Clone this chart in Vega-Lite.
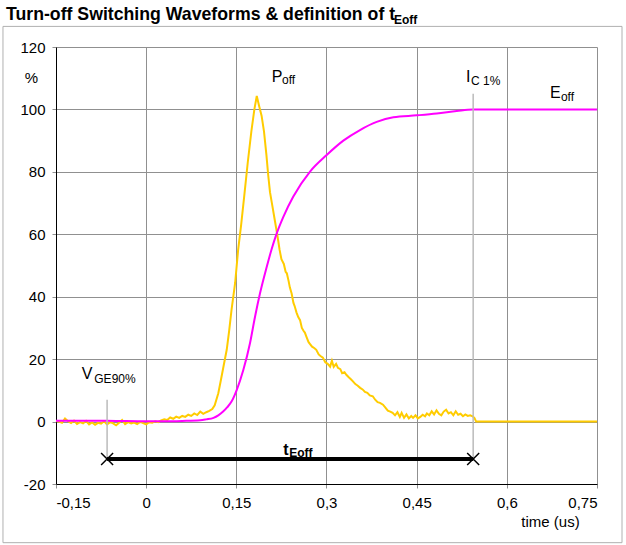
{
  "$schema": "https://vega.github.io/schema/vega-lite/v6.json",
  "width": 541,
  "height": 437,
  "autosize": "none",
  "padding": {"left": 56, "top": 47, "right": 29, "bottom": 61},
  "background": "white",
  "config": {
    "font": "Liberation Sans",
    "view": {"stroke": null},
    "axis": {
      "grid": true,
      "gridColor": "#909090",
      "gridOpacity": 1,
      "gridWidth": 1,
      "domainColor": "black",
      "domainWidth": 1,
      "ticks": true,
      "tickColor": "#909090",
      "tickSize": 4,
      "labelFontSize": 15,
      "labelColor": "black",
      "titleFontSize": 15,
      "titleFontWeight": "normal",
      "titleColor": "black"
    }
  },
  "datasets": {
    "poff": [
      {"t": -0.15, "v": 0.2}, {"t": -0.145, "v": 0.0}, {"t": -0.14, "v": -0.4}, {"t": -0.135, "v": 1.0},
      {"t": -0.13, "v": 0.1}, {"t": -0.125, "v": -0.5}, {"t": -0.12, "v": 0.3}, {"t": -0.115, "v": -0.8},
      {"t": -0.11, "v": -0.2}, {"t": -0.105, "v": -0.6}, {"t": -0.1, "v": 0.2}, {"t": -0.095, "v": -0.9},
      {"t": -0.09, "v": -0.3}, {"t": -0.085, "v": -1.0}, {"t": -0.08, "v": -0.4}, {"t": -0.075, "v": -0.7},
      {"t": -0.07, "v": 0.1}, {"t": -0.065, "v": -0.9}, {"t": -0.06, "v": -0.2}, {"t": -0.055, "v": -0.6},
      {"t": -0.05, "v": -1.2}, {"t": -0.045, "v": -0.4}, {"t": -0.04, "v": 0.5}, {"t": -0.035, "v": -0.8},
      {"t": -0.03, "v": -0.2}, {"t": -0.025, "v": -0.6}, {"t": -0.02, "v": -0.3}, {"t": -0.015, "v": -0.8},
      {"t": -0.01, "v": -0.1}, {"t": -0.005, "v": -0.5}, {"t": 0.0, "v": -0.9}, {"t": 0.005, "v": -0.2},
      {"t": 0.01, "v": -0.4}, {"t": 0.015, "v": 0.1}, {"t": 0.02, "v": -0.2}, {"t": 0.025, "v": 0.4},
      {"t": 0.03, "v": 0.7}, {"t": 0.035, "v": 0.5}, {"t": 0.04, "v": 1.3}, {"t": 0.045, "v": 0.9},
      {"t": 0.05, "v": 1.6}, {"t": 0.055, "v": 1.2}, {"t": 0.06, "v": 1.8}, {"t": 0.065, "v": 1.5},
      {"t": 0.07, "v": 2.2}, {"t": 0.075, "v": 1.8}, {"t": 0.08, "v": 2.6}, {"t": 0.085, "v": 2.1},
      {"t": 0.09, "v": 3.2}, {"t": 0.095, "v": 2.5}, {"t": 0.1, "v": 3.0}, {"t": 0.105, "v": 3.4},
      {"t": 0.11, "v": 4.0}, {"t": 0.114, "v": 5.2}, {"t": 0.12, "v": 9.1}, {"t": 0.124, "v": 13},
      {"t": 0.128, "v": 17}, {"t": 0.134, "v": 23}, {"t": 0.138, "v": 29}, {"t": 0.142, "v": 35.8},
      {"t": 0.148, "v": 44.4}, {"t": 0.153, "v": 55}, {"t": 0.158, "v": 63}, {"t": 0.163, "v": 72},
      {"t": 0.169, "v": 83}, {"t": 0.175, "v": 93}, {"t": 0.18, "v": 100}, {"t": 0.184, "v": 104.3},
      {"t": 0.188, "v": 101}, {"t": 0.192, "v": 98}, {"t": 0.196, "v": 93}, {"t": 0.2, "v": 85.5},
      {"t": 0.203, "v": 79}, {"t": 0.206, "v": 73.5}, {"t": 0.21, "v": 69}, {"t": 0.214, "v": 64.5},
      {"t": 0.218, "v": 60}, {"t": 0.222, "v": 55}, {"t": 0.225, "v": 52}, {"t": 0.229, "v": 50.5},
      {"t": 0.232, "v": 48}, {"t": 0.234, "v": 47.5}, {"t": 0.237, "v": 45}, {"t": 0.239, "v": 43},
      {"t": 0.242, "v": 41}, {"t": 0.245, "v": 38}, {"t": 0.247, "v": 37}, {"t": 0.25, "v": 35},
      {"t": 0.253, "v": 33.5}, {"t": 0.256, "v": 32.5}, {"t": 0.259, "v": 30}, {"t": 0.262, "v": 29},
      {"t": 0.264, "v": 28.5}, {"t": 0.267, "v": 27}, {"t": 0.27, "v": 25.5}, {"t": 0.272, "v": 25},
      {"t": 0.276, "v": 24}, {"t": 0.28, "v": 23.5}, {"t": 0.283, "v": 23}, {"t": 0.287, "v": 21.5},
      {"t": 0.29, "v": 21}, {"t": 0.294, "v": 20.5}, {"t": 0.298, "v": 19}, {"t": 0.302, "v": 18.5},
      {"t": 0.306, "v": 17.6}, {"t": 0.309, "v": 19.5}, {"t": 0.312, "v": 17.5}, {"t": 0.316, "v": 18.5},
      {"t": 0.319, "v": 17.2}, {"t": 0.323, "v": 16.8}, {"t": 0.326, "v": 15.5}, {"t": 0.33, "v": 15.8},
      {"t": 0.333, "v": 15}, {"t": 0.337, "v": 14.2}, {"t": 0.341, "v": 13.5}, {"t": 0.344, "v": 12.9},
      {"t": 0.348, "v": 12.0}, {"t": 0.352, "v": 11.5}, {"t": 0.356, "v": 10.8}, {"t": 0.36, "v": 10.3},
      {"t": 0.364, "v": 9.5}, {"t": 0.368, "v": 9.2}, {"t": 0.372, "v": 8.4}, {"t": 0.377, "v": 8.1},
      {"t": 0.381, "v": 7.0}, {"t": 0.385, "v": 6.2}, {"t": 0.389, "v": 6.0}, {"t": 0.394, "v": 5.4},
      {"t": 0.398, "v": 4.5}, {"t": 0.402, "v": 3.5}, {"t": 0.406, "v": 3.2}, {"t": 0.41, "v": 2.8},
      {"t": 0.414, "v": 2.0}, {"t": 0.418, "v": 3.0}, {"t": 0.422, "v": 1.5}, {"t": 0.425, "v": 2.8},
      {"t": 0.429, "v": 1.2}, {"t": 0.433, "v": 2.3}, {"t": 0.437, "v": 1.0}, {"t": 0.441, "v": 1.8},
      {"t": 0.444, "v": 1.2}, {"t": 0.448, "v": 2.0}, {"t": 0.452, "v": 1.0}, {"t": 0.456, "v": 1.5},
      {"t": 0.46, "v": 2.2}, {"t": 0.464, "v": 1.7}, {"t": 0.467, "v": 2.6}, {"t": 0.471, "v": 2.0},
      {"t": 0.475, "v": 3.3}, {"t": 0.479, "v": 2.3}, {"t": 0.483, "v": 3.6}, {"t": 0.487, "v": 2.5},
      {"t": 0.491, "v": 2.0}, {"t": 0.495, "v": 3.2}, {"t": 0.499, "v": 3.8}, {"t": 0.503, "v": 2.6},
      {"t": 0.507, "v": 3.0}, {"t": 0.511, "v": 2.0}, {"t": 0.515, "v": 3.3}, {"t": 0.519, "v": 2.2},
      {"t": 0.523, "v": 2.5}, {"t": 0.527, "v": 1.7}, {"t": 0.531, "v": 2.3}, {"t": 0.535, "v": 1.8},
      {"t": 0.539, "v": 2.0}, {"t": 0.543, "v": 1.7}, {"t": 0.546, "v": 1.2}, {"t": 0.549, "v": 0},
      {"t": 0.75, "v": 0}
    ],
    "eoff": [
      {"t": -0.15, "v": 0.3}, {"t": -0.1, "v": 0.3}, {"t": -0.05, "v": 0.2}, {"t": 0.0, "v": 0.1},
      {"t": 0.03, "v": 0.1}, {"t": 0.06, "v": 0.2}, {"t": 0.09, "v": 0.4}, {"t": 0.1, "v": 0.7},
      {"t": 0.112, "v": 1.2}, {"t": 0.12, "v": 2.0}, {"t": 0.128, "v": 3.2}, {"t": 0.135, "v": 4.6},
      {"t": 0.142, "v": 6.4}, {"t": 0.1506, "v": 10.1}, {"t": 0.1616, "v": 16.5}, {"t": 0.1727, "v": 25.1},
      {"t": 0.1811, "v": 33.6}, {"t": 0.1894, "v": 41.1}, {"t": 0.2005, "v": 49.5}, {"t": 0.2088, "v": 55.3},
      {"t": 0.2172, "v": 60.3}, {"t": 0.2282, "v": 65.6}, {"t": 0.2448, "v": 72.1}, {"t": 0.2726, "v": 80.1},
      {"t": 0.3003, "v": 85.4}, {"t": 0.328, "v": 90.0}, {"t": 0.3557, "v": 93.4}, {"t": 0.3835, "v": 96.0},
      {"t": 0.4112, "v": 97.5}, {"t": 0.45, "v": 98.1}, {"t": 0.4834, "v": 98.7}, {"t": 0.5166, "v": 99.5},
      {"t": 0.543, "v": 100}, {"t": 0.75, "v": 100}
    ],
    "markers": [
      {"t": -0.065, "top": 7, "bottom": -12},
      {"t": 0.544, "top": 105, "bottom": -12}
    ],
    "span": [
      {"start": -0.065, "end": 0.544, "level": -12}
    ],
    "ends": [
      {"t": -0.065, "v": -12},
      {"t": 0.544, "v": -12}
    ],
    "letters": [
      {"t": -0.1072, "v": 13.5, "text": "V"},
      {"t": 0.209, "v": 108.9, "text": "P"},
      {"t": 0.532, "v": 108.9, "text": "I"},
      {"t": 0.672, "v": 103.8, "text": "E"}
    ],
    "subs": [
      {"t": -0.0863, "v": 12.5, "text": "GE90%"},
      {"t": 0.226, "v": 108, "text": "off"},
      {"t": 0.5405, "v": 107.7, "text": "C 1%"},
      {"t": 0.69, "v": 102.6, "text": "off"}
    ],
    "tletter": [
      {"t": 0.228, "v": -10.6, "text": "t"}
    ],
    "tsub": [
      {"t": 0.238, "v": -11.4, "text": "Eoff"}
    ],
    "heading": [
      {"t": -0.2332, "v": 128.7, "text": "Turn-off Switching Waveforms & definition of t"}
    ],
    "headingsub": [
      {"t": 0.4123, "v": 127.4, "text": "Eoff"}
    ]
  },
  "layer": [
    {
      "data": {"name": "poff"},
      "mark": {"type": "line", "color": "#FFCC00", "strokeWidth": 2},
      "encoding": {
        "x": {
          "field": "t", "type": "quantitative",
          "scale": {"domain": [-0.15, 0.75], "nice": false, "zero": false},
          "axis": {
            "grid": true,
            "values": [-0.15, 0, 0.15, 0.3, 0.45, 0.6, 0.75],
            "labelExpr": "replace(datum.value + '', '.', ',')",
            "labelPadding": 7,
            "title": "time (us)",
            "titleX": 494,
            "titleY": 37,
            "titleAlign": "center",
            "titleBaseline": "middle"
          }
        },
        "y": {
          "field": "v", "type": "quantitative",
          "scale": {"domain": [-20, 120], "nice": false, "zero": false},
          "axis": {
            "grid": true,
            "values": [-20, 0, 20, 40, 60, 80, 100, 120],
            "labelExpr": "datum.value + ''",
            "labelPadding": 7,
            "title": "%",
            "titleAngle": 0,
            "titleX": -25,
            "titleY": 30,
            "titleAlign": "center",
            "titleBaseline": "middle"
          }
        }
      }
    },
    {
      "data": {"name": "eoff"},
      "mark": {"type": "line", "color": "#FF00FF", "strokeWidth": 2, "interpolate": "monotone"},
      "encoding": {
        "x": {"field": "t", "type": "quantitative"},
        "y": {"field": "v", "type": "quantitative"}
      }
    },
    {
      "data": {"name": "markers"},
      "mark": {"type": "rule", "color": "#bbbbbb", "strokeWidth": 1.5},
      "encoding": {
        "x": {"field": "t", "type": "quantitative"},
        "y": {"field": "top", "type": "quantitative"},
        "y2": {"field": "bottom"}
      }
    },
    {
      "data": {"name": "span"},
      "mark": {"type": "rule", "color": "black", "strokeWidth": 4},
      "encoding": {
        "x": {"field": "start", "type": "quantitative"},
        "x2": {"field": "end"},
        "y": {"field": "level", "type": "quantitative"}
      }
    },
    {
      "data": {"name": "ends"},
      "mark": {"type": "point", "shape": "M-1,-1L1,1M-1,1L1,-1", "filled": false, "stroke": "black", "strokeWidth": 1.5, "size": 144, "opacity": 1},
      "encoding": {
        "x": {"field": "t", "type": "quantitative"},
        "y": {"field": "v", "type": "quantitative"}
      }
    },
    {
      "data": {"name": "letters"},
      "mark": {"type": "text", "align": "left", "baseline": "alphabetic", "fontSize": 16, "color": "black"},
      "encoding": {
        "x": {"field": "t", "type": "quantitative"},
        "y": {"field": "v", "type": "quantitative"},
        "text": {"field": "text"}
      }
    },
    {
      "data": {"name": "subs"},
      "mark": {"type": "text", "align": "left", "baseline": "alphabetic", "fontSize": 12, "color": "black"},
      "encoding": {
        "x": {"field": "t", "type": "quantitative"},
        "y": {"field": "v", "type": "quantitative"},
        "text": {"field": "text"}
      }
    },
    {
      "data": {"name": "tletter"},
      "mark": {"type": "text", "align": "left", "baseline": "alphabetic", "fontSize": 16, "fontWeight": "bold", "color": "black"},
      "encoding": {
        "x": {"field": "t", "type": "quantitative"},
        "y": {"field": "v", "type": "quantitative"},
        "text": {"field": "text"}
      }
    },
    {
      "data": {"name": "tsub"},
      "mark": {"type": "text", "align": "left", "baseline": "alphabetic", "fontSize": 12, "fontWeight": "bold", "color": "black"},
      "encoding": {
        "x": {"field": "t", "type": "quantitative"},
        "y": {"field": "v", "type": "quantitative"},
        "text": {"field": "text"}
      }
    },
    {
      "data": {"name": "heading"},
      "mark": {"type": "text", "align": "left", "baseline": "alphabetic", "fontSize": 17.7, "fontWeight": "bold", "color": "black", "clip": false},
      "encoding": {
        "x": {"field": "t", "type": "quantitative"},
        "y": {"field": "v", "type": "quantitative"},
        "text": {"field": "text"}
      }
    },
    {
      "data": {"name": "headingsub"},
      "mark": {"type": "text", "align": "left", "baseline": "alphabetic", "fontSize": 12, "fontWeight": "bold", "color": "black", "clip": false},
      "encoding": {
        "x": {"field": "t", "type": "quantitative"},
        "y": {"field": "v", "type": "quantitative"},
        "text": {"field": "text"}
      }
    },
    {
      "data": {"values": [{}]},
      "mark": {"type": "rect", "fill": "transparent", "stroke": "#b0b0b0", "strokeWidth": 1, "clip": false},
      "encoding": {
        "x": {"datum": -0.2382, "type": "quantitative"},
        "x2": {"datum": 0.7916},
        "y": {"datum": 126.6, "type": "quantitative"},
        "y2": {"datum": -38.8}
      }
    }
  ]
}
